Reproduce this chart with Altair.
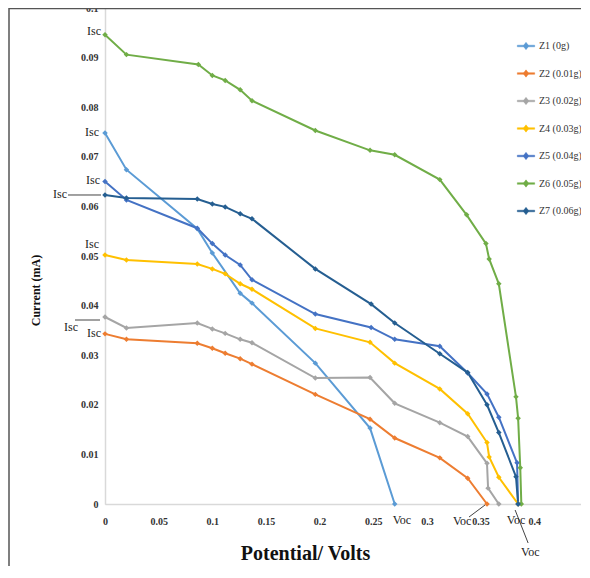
import altair as alt
import pandas as pd

# ---------------- data ----------------
series_names = ["Z1 (0g)", "Z2 (0.01g)", "Z3 (0.02g)", "Z4 (0.03g)",
                "Z5 (0.04g)", "Z6 (0.05g)", "Z7 (0.06g)"]
series_colors = ["#5B9BD5", "#ED7D31", "#A5A5A5", "#FFC000",
                 "#4472C4", "#70AD47", "#255E91"]

z1_v = [0, 0.02, 0.086, 0.1, 0.126, 0.137, 0.196, 0.247, 0.27]
z1_i = [0.0748, 0.0674, 0.0555, 0.0506, 0.0425, 0.0405, 0.0284, 0.0153, 0.0]

z2_v = [0, 0.02, 0.086, 0.1, 0.112, 0.126, 0.137, 0.196, 0.247, 0.27, 0.312, 0.338, 0.356]
z2_i = [0.0343, 0.0332, 0.0324, 0.0314, 0.0304, 0.0293, 0.0282, 0.0221, 0.0171,
        0.0133, 0.0093, 0.0052, 0.0]

z3_v = [0, 0.02, 0.086, 0.1, 0.112, 0.126, 0.137, 0.196, 0.247, 0.27, 0.312, 0.338,
        0.356, 0.357, 0.367]
z3_i = [0.0377, 0.0355, 0.0365, 0.0353, 0.0344, 0.0332, 0.0325, 0.0254, 0.0255,
        0.0203, 0.0164, 0.0136, 0.0082, 0.0032, 0.0]

z4_v = [0, 0.02, 0.086, 0.1, 0.112, 0.126, 0.137, 0.196, 0.247, 0.27, 0.312, 0.338,
        0.356, 0.358, 0.367, 0.385]
z4_i = [0.0502, 0.0492, 0.0484, 0.0474, 0.0464, 0.0444, 0.0433, 0.0354, 0.0326,
        0.0284, 0.0232, 0.0182, 0.0124, 0.0095, 0.0054, 0.0]

z5_v = [0, 0.02, 0.086, 0.1, 0.112, 0.126, 0.137, 0.196, 0.248, 0.27, 0.312, 0.338,
        0.356, 0.367, 0.384, 0.385]
z5_i = [0.065, 0.0613, 0.0556, 0.0525, 0.0502, 0.0482, 0.0452, 0.0383, 0.0356,
        0.0332, 0.0318, 0.0264, 0.0222, 0.0175, 0.0083, 0.0]

z6_v = [0, 0.02, 0.087, 0.1, 0.112, 0.126, 0.137, 0.196, 0.247, 0.27, 0.312, 0.337,
        0.355, 0.358, 0.367, 0.383, 0.385, 0.387, 0.388]
z6_i = [0.0946, 0.0906, 0.0886, 0.0864, 0.0854, 0.0835, 0.0813, 0.0753, 0.0713,
        0.0704, 0.0654, 0.0583, 0.0525, 0.0494, 0.0444, 0.0216, 0.0173, 0.0073, 0.0]

z7_v = [0, 0.02, 0.086, 0.1, 0.112, 0.126, 0.137, 0.196, 0.248, 0.27, 0.312, 0.338,
        0.356, 0.367, 0.383, 0.385]
z7_i = [0.0623, 0.0617, 0.0615, 0.0605, 0.0599, 0.0585, 0.0575, 0.0474, 0.0403,
        0.0365, 0.0303, 0.0265, 0.020, 0.0144, 0.0055, 0.0]

x_ticks = [0, 0.05, 0.1, 0.15, 0.2, 0.25, 0.3, 0.35, 0.4, 0.45]
y_ticks = [0, 0.01, 0.02, 0.03, 0.04, 0.05, 0.06, 0.07, 0.08, 0.09, 0.1]

all_v = [z1_v, z2_v, z3_v, z4_v, z5_v, z6_v, z7_v]
all_i = [z1_i, z2_i, z3_i, z4_i, z5_i, z6_i, z7_i]

rows = []
for name, vs, cs in zip(series_names, all_v, all_i):
    for v, c in zip(vs, cs):
        rows.append({"series": name, "V": v, "I": c})
df = pd.DataFrame(rows)

# annotation anchors: Isc at (0, first current), Voc at (last potential, 0)
isc_df = pd.DataFrame({"series": series_names,
                       "V": [v[0] for v in all_v],
                       "I": [c[0] for c in all_i]})
voc_df = pd.DataFrame({"series": series_names,
                       "V": [v[-1] for v in all_v],
                       "I": [c[-1] for c in all_i]})

# ---------------- chart ----------------
SERIF = "Liberation Serif"
W, H = 476, 496

# the picture is cropped at its right edge, a little before 0.45 V
x_scale = alt.Scale(domain=[0, 0.4436], nice=False, zero=False)
y_scale = alt.Scale(domain=[0, 0.1], nice=False, zero=False)

legend_symbol = "M-1,-0.09L1,-0.09L1,0.09L-1,0.09Z M-0.33,0L0,-0.42L0.33,0L0,0.42Z"

lines = alt.Chart(df).mark_line(
    strokeWidth=2, clip=False,
    point=alt.OverlayMarkDef(shape="diamond", size=30, filled=True)
).encode(
    x=alt.X("V:Q", scale=x_scale, title="Potential/ Volts",
            axis=alt.Axis(values=x_ticks, format=".2~f", ticks=False, grid=False,
                          domainColor="#d9d9d9", domainWidth=1.5,
                          labelFont=SERIF, labelFontWeight="bold", labelFontSize=10,
                          labelColor="#333", labelPadding=12, labelFlush=False,
                          titleFont=SERIF, titleFontWeight="bold", titleFontSize=20,
                          titleColor="#111", titleX=200, titleY=49,
                          titleBaseline="middle", titleAlign="center")),
    y=alt.Y("I:Q", scale=y_scale, title="Current (mA)",
            axis=alt.Axis(values=y_ticks, format=".2~f", ticks=False, grid=False,
                          domainColor="#d9d9d9", domainWidth=1.5,
                          labelFont=SERIF, labelFontWeight="bold", labelFontSize=10,
                          labelColor="#333", labelPadding=7, labelFlush=False,
                          titleFont=SERIF, titleFontWeight="bold", titleFontSize=12,
                          titleColor="#111", titleAngle=-90, titleX=-70, titleY=282,
                          titleBaseline="middle", titleAlign="center")),
    color=alt.Color("series:N",
                    scale=alt.Scale(domain=series_names, range=series_colors),
                    legend=alt.Legend(title=None, orient="none", legendX=412, legendY=29,
                                      symbolType=legend_symbol, symbolSize=300,
                                      symbolStrokeWidth=0.5, rowPadding=13.5,
                                      labelFont=SERIF, labelFontSize=10,
                                      labelColor="#333", labelOffset=4)),
)

# Isc labels: (dx, dy) per series
isc_offsets = [(-6, -1), (-4, -1), (-27, 10), (-6, -11), (-5, -2), (-4, -4), (-38, -1)]
isc_layers = []
for name, (dx, dy) in zip(series_names, isc_offsets):
    isc_layers.append(
        alt.Chart(isc_df[isc_df.series == name]).mark_text(
            text="Isc", font=SERIF, fontSize=12, color="#222", align="right",
            baseline="middle", dx=dx, dy=dy, clip=False
        ).encode(x=alt.X("V:Q", scale=x_scale), y=alt.Y("I:Q", scale=y_scale))
    )

# Isc leader lines for Z3 and Z7
isc_lines = []
for name, xo, x2o, yo in [("Z7 (0.06g)", -37, -4, 0), ("Z3 (0.02g)", -30, -5, 3)]:
    isc_lines.append(
        alt.Chart(isc_df[isc_df.series == name]).mark_rule(
            color="#444", strokeWidth=1, xOffset=xo, x2Offset=x2o,
            yOffset=yo, y2Offset=yo, clip=False
        ).encode(x=alt.X("V:Q", scale=x_scale), x2="V:Q",
                 y=alt.Y("I:Q", scale=y_scale), y2="I:Q")
    )

# Voc labels
voc_specs = [("Z1 (0g)", -2, 16), ("Z2 (0.01g)", -34, 17), ("Z3 (0.02g)", 8, 16),
             ("Z7 (0.06g)", 3, 48)]
voc_layers = []
for name, dx, dy in voc_specs:
    voc_layers.append(
        alt.Chart(voc_df[voc_df.series == name]).mark_text(
            text="Voc", font=SERIF, fontSize=12, color="#222", align="left",
            baseline="middle", dx=dx, dy=dy, clip=False
        ).encode(x=alt.X("V:Q", scale=x_scale), y=alt.Y("I:Q", scale=y_scale))
    )

voc_lines = []
for name, xo, yo, x2o, y2o in [("Z2 (0.01g)", -18, 13, -2, 1), ("Z7 (0.06g)", -3, 6, 10, 39)]:
    voc_lines.append(
        alt.Chart(voc_df[voc_df.series == name]).mark_rule(
            color="#444", strokeWidth=1, xOffset=xo, yOffset=yo,
            x2Offset=x2o, y2Offset=y2o, clip=False
        ).encode(x=alt.X("V:Q", scale=x_scale), x2="V:Q",
                 y=alt.Y("I:Q", scale=y_scale), y2="I:Q")
    )

# outer picture frame (left and top edges)
frame_left = alt.Chart(isc_df.head(1)).mark_rule(color="#555", strokeWidth=1.5).encode(
    x=alt.value(-96), y=alt.value(0), y2=alt.value(H + 80))
frame_top = alt.Chart(isc_df.head(1)).mark_rule(color="#555", strokeWidth=1.5).encode(
    x=alt.value(-96), x2=alt.value(W + 10), y=alt.value(0.5))

chart = alt.layer(
    lines, *isc_lines, *isc_layers, *voc_lines, *voc_layers, frame_left, frame_top
).properties(
    width=W, height=H,
    autosize=alt.AutoSizeParams(type="none"),
    padding={"left": 97, "top": 0, "right": 0, "bottom": 62},
).configure_view(stroke=None).configure(background="white")

chart.save("out.html", embed_options={"renderer": "svg", "actions": False})
